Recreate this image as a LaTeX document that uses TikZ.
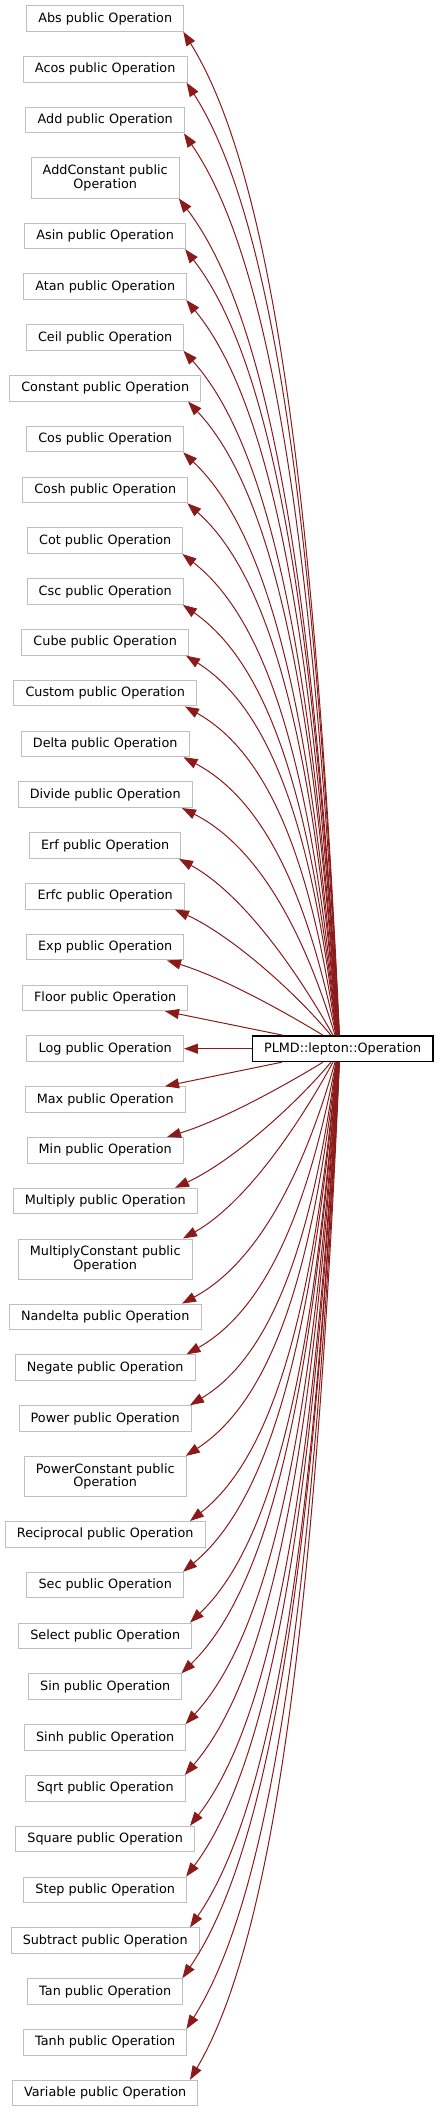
\documentclass[tikz,border=0pt]{standalone}
\usepackage{fontspec}
\setmainfont{DejaVu Sans}
\usetikzlibrary{arrows.meta,calc}
\definecolor{edgered}{HTML}{8B1A1A}
\definecolor{boxgray}{HTML}{BFBFBF}
% #1 target, #2 start x (px), #3 end x cap (px), #4..#7 shape factors p q r s
\newcommand\connup[7]{%
  \draw[edge] let \p1=([xshift={(#2-342.65)*0.75pt}]op.north), \p3=(#1.south east),
    \p4=({min(\x3-0.75pt,#3*0.75pt)},\y3) in
    (\p1) .. controls ({\x1-#4*(\x1-\x4)},{\y1+#5*(\y4-\y1)}) and ({\x4+#6*(\x1-\x4)},{\y4+#7*(\y1-\y4)}) .. (\p4);}
\newcommand\conndn[7]{%
  \draw[edge] let \p1=([xshift={(#2-342.65)*0.75pt}]op.south), \p3=(#1.north east),
    \p4=({min(\x3-0.75pt,#3*0.75pt)},\y3) in
    (\p1) .. controls ({\x1-#4*(\x1-\x4)},{\y1+#5*(\y4-\y1)}) and ({\x4+#6*(\x1-\x4)},{\y4+#7*(\y1-\y4)}) .. (\p4);}
\begin{document}
\begin{tikzpicture}[x=0.75pt,y=-0.75pt,
  tb/.style={draw=boxgray,line width=0.75pt,fill=white,inner xsep=8.74pt,inner ysep=0pt,
    minimum height=19.2pt,font=\fontsize{9.6pt}{10pt}\selectfont,text=black},
  tb2/.style={tb,align=center,minimum height=30pt},
  mainbox/.style={tb,draw=black,line width=1pt},
  edge/.style={draw=edgered,line width=0.75pt,-{Triangle[length=10.5pt,width=7.5pt,fill=edgered]}}]
\useasboundingbox (0,0) rectangle (437,2112);
\node[tb] (abs) at (105.2,18.5) {Abs public Operation};
\node[tb] (acos) at (105.2,69.3) {Acos public Operation};
\node[tb] (add) at (105.2,120.1) {Add public Operation};
\node[tb2] (addc) at (105.2,178.0) {AddConstant public\\Operation};
\node[tb] (asin) at (105.2,235.9) {Asin public Operation};
\node[tb] (atan) at (105.2,286.7) {Atan public Operation};
\node[tb] (ceil) at (105.2,337.5) {Ceil public Operation};
\node[tb] (const) at (105.2,388.3) {Constant public Operation};
\node[tb] (cos) at (105.2,439.1) {Cos public Operation};
\node[tb] (cosh) at (105.2,489.9) {Cosh public Operation};
\node[tb] (cot) at (105.2,540.7) {Cot public Operation};
\node[tb] (csc) at (105.2,591.5) {Csc public Operation};
\node[tb] (cube) at (105.2,642.3) {Cube public Operation};
\node[tb] (custom) at (105.2,693.1) {Custom public Operation};
\node[tb] (delta) at (105.2,743.9) {Delta public Operation};
\node[tb] (divide) at (105.2,794.7) {Divide public Operation};
\node[tb] (erf) at (105.2,845.5) {Erf public Operation};
\node[tb] (erfc) at (105.2,896.3) {Erfc public Operation};
\node[tb] (exp) at (105.2,947.1) {Exp public Operation};
\node[tb] (floor) at (105.2,997.9) {Floor public Operation};
\node[tb] (log) at (105.2,1048.7) {Log public Operation};
\node[tb] (max) at (105.2,1099.5) {Max public Operation};
\node[tb] (min) at (105.2,1150.3) {Min public Operation};
\node[tb] (mul) at (105.2,1201.1) {Multiply public Operation};
\node[tb2] (mulc) at (105.2,1259.0) {MultiplyConstant public\\Operation};
\node[tb] (nand) at (105.2,1316.9) {Nandelta public Operation};
\node[tb] (neg) at (105.2,1367.7) {Negate public Operation};
\node[tb] (pow) at (105.2,1418.5) {Power public Operation};
\node[tb2] (powc) at (105.2,1476.4) {PowerConstant public\\Operation};
\node[tb] (recip) at (105.2,1534.3) {Reciprocal public Operation};
\node[tb] (sec) at (105.2,1585.1) {Sec public Operation};
\node[tb] (select) at (105.2,1635.9) {Select public Operation};
\node[tb] (sin) at (105.2,1686.7) {Sin public Operation};
\node[tb] (sinh) at (105.2,1737.5) {Sinh public Operation};
\node[tb] (sqrt) at (105.2,1788.3) {Sqrt public Operation};
\node[tb] (square) at (105.2,1839.1) {Square public Operation};
\node[tb] (stepop) at (105.2,1889.9) {Step public Operation};
\node[tb] (sub) at (105.2,1940.7) {Subtract public Operation};
\node[tb] (tan) at (105.2,1991.5) {Tan public Operation};
\node[tb] (tanh) at (105.2,2042.3) {Tanh public Operation};
\node[tb] (var) at (105.2,2093.1) {Variable public Operation};
\node[mainbox] (op) at (342.65,1048.7) {PLMD::lepton::Operation};
% edges upward
\connup{abs}{339.5}{188}{0.15}{0.5}{0.6}{0.15}
\connup{acos}{339.25}{188}{0.15}{0.5}{0.6}{0.15}
\connup{add}{339}{188}{0.15}{0.5}{0.6}{0.15}
\connup{addc}{338.75}{188}{0.15}{0.5}{0.6}{0.15}
\connup{asin}{338.5}{188}{0.15}{0.5}{0.6}{0.15}
\connup{atan}{338.25}{188}{0.15}{0.5}{0.6}{0.15}
\connup{ceil}{338}{188}{0.15}{0.5}{0.6}{0.15}
\connup{const}{337.75}{188}{0.15}{0.5}{0.6}{0.15}
\connup{cos}{337.5}{188}{0.15}{0.5}{0.6}{0.15}
\connup{cosh}{337.25}{188}{0.15}{0.5}{0.6}{0.15}
\connup{cot}{337}{188}{0.15}{0.5}{0.6}{0.15}
\connup{csc}{336.75}{188}{0.15}{0.5}{0.6}{0.15}
\connup{cube}{336.5}{186}{0.15}{0.5}{0.6}{0.15}
\connup{custom}{336.25}{185}{0.16}{0.5}{0.58}{0.15}
\connup{delta}{336}{183.5}{0.18}{0.48}{0.55}{0.16}
\connup{divide}{335}{182}{0.2}{0.45}{0.5}{0.17}
\connup{erf}{333}{179}{0.25}{0.39}{0.4}{0.19}
\connup{erfc}{331}{175}{0.25}{0.37}{0.35}{0.2}
\connup{exp}{323}{167}{0.3}{0.38}{0.33}{0.21}
\connup{floor}{283}{165}{0.333}{0.333}{0.333}{0.333}
% straight edge
\draw[edge] (op.west) -- (log.east);
% edges downward
\conndn{max}{282}{165}{0.333}{0.333}{0.333}{0.333}
\conndn{min}{323}{167}{0.3}{0.38}{0.33}{0.21}
\conndn{mul}{331}{175}{0.25}{0.37}{0.35}{0.2}
\conndn{mulc}{333}{183}{0.25}{0.39}{0.4}{0.19}
\conndn{nand}{335}{182}{0.2}{0.45}{0.5}{0.17}
\conndn{neg}{336}{186.5}{0.18}{0.48}{0.55}{0.16}
\conndn{pow}{336.25}{190}{0.16}{0.5}{0.58}{0.15}
\conndn{powc}{336.5}{190}{0.15}{0.5}{0.6}{0.15}
\conndn{recip}{336.75}{190}{0.15}{0.5}{0.6}{0.15}
\conndn{sec}{337}{190}{0.15}{0.5}{0.6}{0.15}
\conndn{select}{337.25}{190}{0.15}{0.5}{0.6}{0.15}
\conndn{sin}{337.5}{190}{0.15}{0.5}{0.6}{0.15}
\conndn{sinh}{337.75}{190}{0.15}{0.5}{0.6}{0.15}
\conndn{sqrt}{338}{190}{0.15}{0.5}{0.6}{0.15}
\conndn{square}{338.25}{190}{0.15}{0.5}{0.6}{0.15}
\conndn{stepop}{338.5}{190}{0.15}{0.5}{0.6}{0.15}
\conndn{sub}{338.75}{190}{0.15}{0.5}{0.6}{0.15}
\conndn{tan}{339}{190}{0.15}{0.5}{0.6}{0.15}
\conndn{tanh}{339.25}{190}{0.15}{0.5}{0.6}{0.15}
\conndn{var}{339.5}{190}{0.15}{0.5}{0.6}{0.15}
\end{tikzpicture}
\end{document}
